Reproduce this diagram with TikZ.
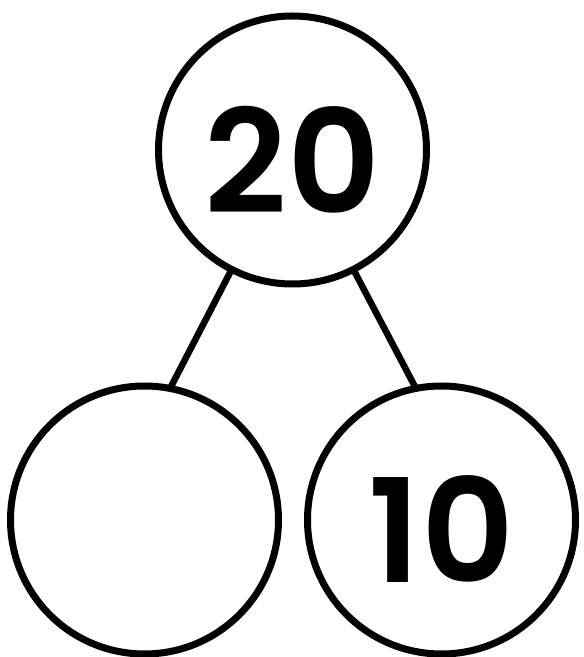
\documentclass[tikz,border=0pt]{standalone}
\usepackage{fontspec}
\newfontfamily\bondfont{Poppins SemiBold}
\usetikzlibrary{positioning,calc}

\begin{document}
\begin{tikzpicture}[x=1pt, y=1pt,
  part/.style={draw=black, circle, line width=7pt, minimum size=268pt, inner sep=0pt, outer sep=0pt},
  num/.style={font=\bondfont\fontsize{144}{144}\selectfont, inner sep=0pt},
  link/.style={line width=6.5pt, black}]

\useasboundingbox (0,0) rectangle (584,657);

% whole on top, parts below
\node[part] (whole) at (292.5,507) {};
\node[part] (left)  at (144.5,137) {};
\node[part] (right) at (441.5,137) {};

\node[num] (wholenum) at ([yshift=-10pt]whole.center) {20};
\node[num] (rightnum) at ([yshift=-9pt]right.center) {10};

\draw[link] (whole.243) -- (left.79);
\draw[link] (whole.297) -- (right.101);
\end{tikzpicture}
\end{document}
